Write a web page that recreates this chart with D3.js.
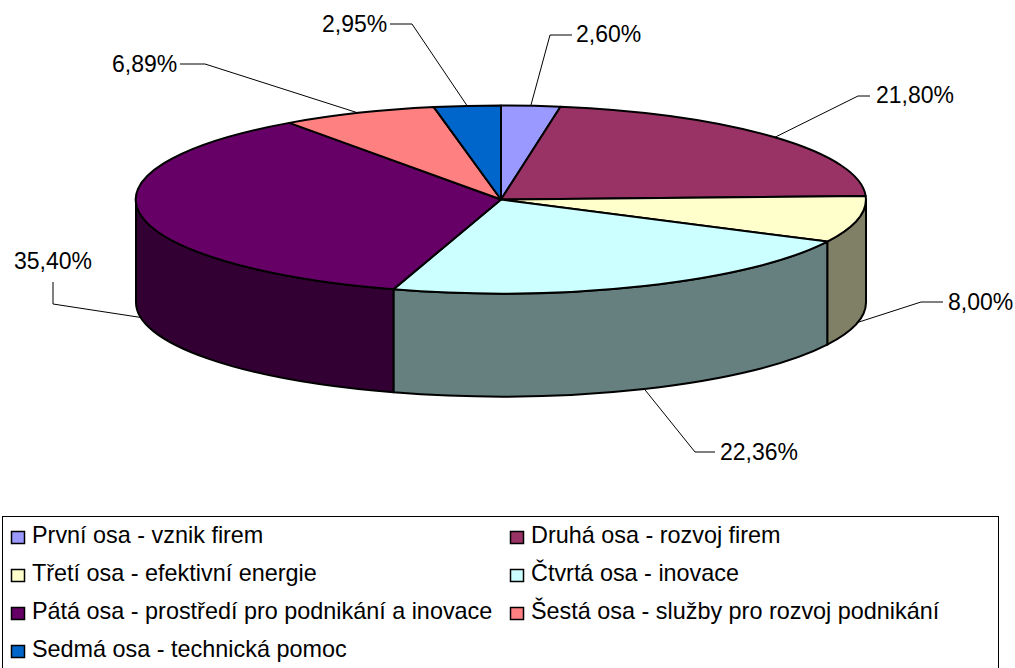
<!DOCTYPE html>
<html>
<head>
<meta charset="utf-8">
<script src="https://d3js.org/d3.v7.min.js"></script>
<style>
html,body{margin:0;padding:0;background:#fff}
svg{display:block}
text{font-family:"Liberation Sans",Arial,sans-serif;fill:#000}
</style>
</head>
<body>
<svg id="c" width="1015" height="668"></svg>
<script>
const categories = [
  "První osa - vznik firem",
  "Druhá osa - rozvoj firem",
  "Třetí osa - efektivní energie",
  "Čtvrtá osa - inovace",
  "Pátá osa - prostředí pro podnikání a inovace",
  "Šestá osa - služby pro rozvoj podnikání",
  "Sedmá osa - technická pomoc"
];
const values = [2.60, 21.80, 8.00, 22.36, 35.40, 6.89, 2.95];
const topColors = ["#9999FF", "#993366", "#FFFFCC", "#CCFFFF", "#660066", "#FF8080", "#0066CC"];
const sideColors = ["#4D4D80", "#4D1A33", "#808066", "#668080", "#330033", "#804040", "#003366"];
// leader elbows: [elbow x, elbow y, end x, end y, label x, label baseline y]
const leaderLayout = [
  [550, 35, 572, 35, 576, 42],
  [858, 96, 870, 96, 876, 103],
  [921, 302, 943, 302, 948, 310],
  [695, 452, 715, 452, 720, 460],
  [53, 304, 53, 282, 14, 269],
  [205, 64, 180, 64, 112, 72],
  [412, 24, 390, 24, 322, 32]
];

const W = 1015, H = 668;
const cx = 501, cy = 199.5, rx = 365, ry = 94, depth = 103;
const svg = d3.select("#c");

const pie = d3.pie().sort(null).value(d => d);
const arcs = pie(values);
const px = t => cx + rx * Math.sin(t);
const py = t => cy - ry * Math.cos(t);

// visible side walls (front half of the ellipse)
const LO = Math.PI / 2, HI = Math.PI * 1.5;
const sideGroup = svg.append("g");
arcs.forEach((a, i) => {
  const s = Math.max(a.startAngle, LO), e = Math.min(a.endAngle, HI);
  if (e <= s) return;
  const large = (e - s) > Math.PI ? 1 : 0;
  const d = `M${px(s)},${py(s)} A${rx},${ry} 0 ${large} 1 ${px(e)},${py(e)}` +
            ` L${px(e)},${py(e) + depth} A${rx},${ry} 0 ${large} 0 ${px(s)},${py(s) + depth} Z`;
  sideGroup.append("path").attr("d", d)
    .attr("fill", sideColors[i]).attr("stroke", "#000").attr("stroke-width", 2)
    .attr("stroke-linejoin", "round");
});

// top face slices
const arc = d3.arc().innerRadius(0).outerRadius(1);
svg.append("g").attr("transform", `translate(${cx},${cy}) scale(${rx},${ry})`)
  .selectAll("path").data(arcs).join("path")
  .attr("d", arc)
  .attr("fill", (d, i) => topColors[i])
  .attr("stroke", "#000").attr("stroke-width", 2)
  .attr("vector-effect", "non-scaling-stroke")
  .attr("stroke-linejoin", "round");

// labels + leaders
const fmt = v => v.toFixed(2).replace(".", ",") + "%";
const g = svg.append("g");
arcs.forEach((a, i) => {
  const m = (a.startAngle + a.endAngle) / 2;
  const front = m > LO && m < HI;
  const sx = px(m), sy = py(m) + (front ? depth : 0);
  const [ex, ey, endX, endY, lx, ly] = leaderLayout[i];
  g.append("path").attr("d", d3.line()([[sx, sy], [ex, ey], [endX, endY]])).attr("fill", "none")
    .attr("stroke", "#000").attr("stroke-width", 1);
  g.append("text").attr("x", lx).attr("y", ly).attr("font-size", 23).text(fmt(values[i]));
});

// legend (its lower edge runs past the bottom of the picture)
const lg = svg.append("g");
lg.append("rect").attr("x", 2.5).attr("y", 516.5).attr("width", 996).attr("height", 170)
  .attr("fill", "#fff").attr("stroke", "#000").attr("stroke-width", 1);
const colX = [11, 510], rowY = d3.scalePoint().domain(d3.range(4)).range([543, 657]);
categories.forEach((c, i) => {
  const col = i % 2, row = Math.floor(i / 2);
  const x = colX[col], y = rowY(row);
  lg.append("rect").attr("x", x + .5).attr("y", y - 11.5).attr("width", 13).attr("height", 12)
    .attr("fill", topColors[i]).attr("stroke", "#000").attr("stroke-width", 1.5);
  lg.append("text").attr("x", x + 21).attr("y", y).attr("font-size", 23.4).text(c);
});
</script>
</body>
</html>
